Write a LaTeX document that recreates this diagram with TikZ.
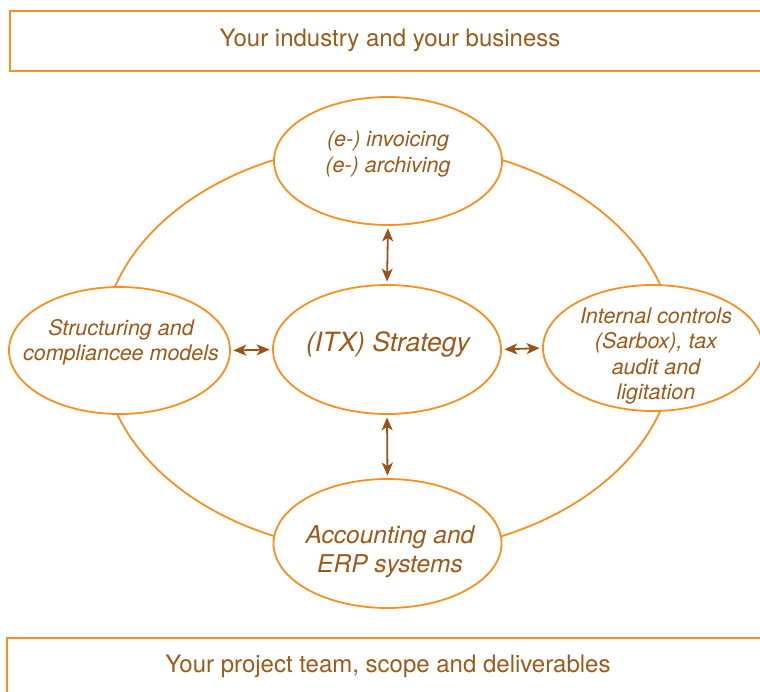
\documentclass[tikz,border=0pt]{standalone}
\usepackage{fontspec}
\setmainfont{TeX Gyre Heros}
\usetikzlibrary{arrows.meta,shapes.geometric}
\definecolor{orng}{HTML}{F7901E}
\definecolor{txtbrown}{HTML}{9B5A1A}
\definecolor{arrbrown}{HTML}{9A5216}
\tikzset{
  bub/.style={ellipse, draw=orng, line width=1.8bp, fill=white, inner sep=0pt},
  band/.style={rectangle, draw=orng, line width=1.8bp, inner sep=0pt},
  bandtext/.style={text=txtbrown, font=\fontsize{24bp}{28bp}\selectfont, inner sep=0pt},
  bubtext/.style={text=txtbrown, align=center, inner sep=0pt, font=\fontsize{21.5bp}{25.3bp}\selectfont\itshape},
  arr/.style={draw=arrbrown, line width=1.8bp, {Stealth[length=13bp,width=11bp,inset=3.5bp]}-{Stealth[length=13bp,width=11bp,inset=3.5bp]}, shorten <=2.5bp, shorten >=2.5bp}
}
\begin{document}
\begin{tikzpicture}[x=1bp, y=-1bp]
\useasboundingbox (0,0) rectangle (760,692);
\clip (0,0) rectangle (760,692);
% bands
\node[band, minimum width=760bp, minimum height=60bp] (topband) at (390,41) {};
\node[bandtext] (toptext) at (390,40) {Your industry and your business};
\node[band, minimum width=762bp, minimum height=70bp] (botband) at (388,673) {};
\node[bandtext] (bottext) at (388,666) {Your project team, scope and deliverables};
% big ring
\draw[orng, line width=1.8bp] (388,348) ellipse [x radius=286bp, y radius=205bp];
% bubbles
\node[bub, minimum width=228bp, minimum height=128bp] (top) at (388,161) {};
\node[bub, minimum width=228bp, minimum height=129bp] (ctr) at (387,349.5) {};
\node[bub, minimum width=228bp, minimum height=129bp] (bot) at (387.5,543.5) {};
\node[bub, minimum width=221bp, minimum height=127bp] (lft) at (119.5,350.5) {};
\node[bub, minimum width=220bp, minimum height=126bp] (rgt) at (653,348) {};
% texts
\node[bubtext] (toptx) at (388,154) {(e-) invoicing\\(e-) archiving};
\node[bubtext, font=\fontsize{26.5bp}{30bp}\selectfont\itshape] (ctrtx) at (388,344) {(ITX) Strategy};
\node[bubtext, font=\fontsize{24.5bp}{29bp}\selectfont\itshape] (bottx) at (390,552) {Accounting and\\ERP systems};
\node[bubtext] (lfttx) at (121,342.5) {Structuring and\\compliancee models};
\node[bubtext] (rgttx) at (656,356) {Internal controls\\(Sarbox), tax\\audit and\\ligitation};
% arrows
\draw[arr] (top.south) -- (ctr.north);
\draw[arr] (ctr.south) -- (bot.north);
\draw[arr] (lft.east) -- (ctr.west);
\draw[arr] (ctr.east) -- (rgt.west);
\end{tikzpicture}
\end{document}
